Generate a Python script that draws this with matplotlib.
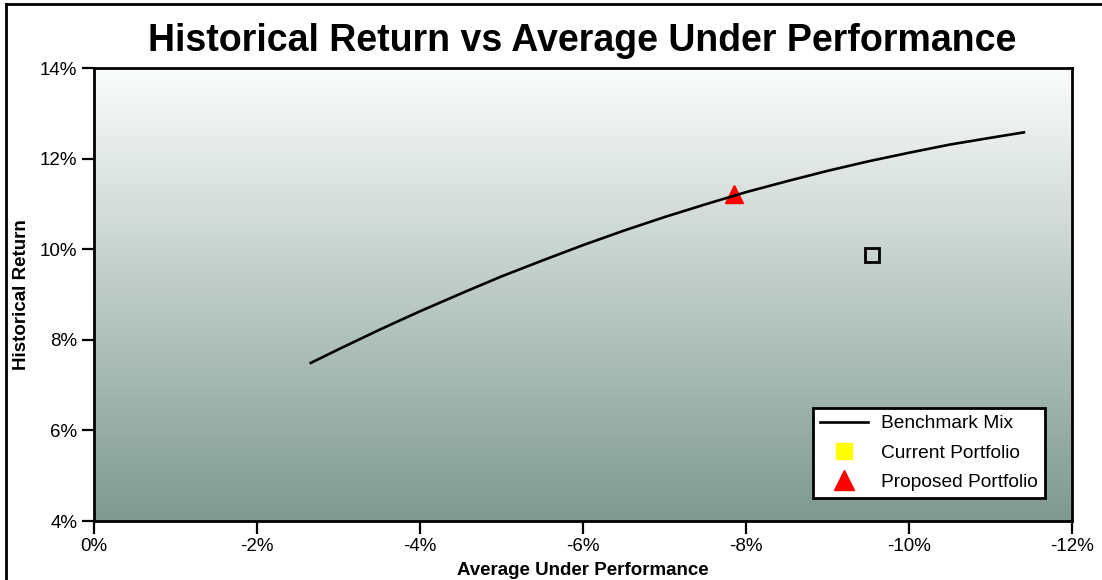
import numpy as np
import matplotlib.pyplot as plt
from matplotlib.lines import Line2D

plt.rcParams['font.family'] = ['Liberation Sans', 'DejaVu Sans']

# benchmark curve (average under performance %, historical return %)
bench_x = [-2.66, -3.0, -3.5, -4.0, -4.5, -5.0, -5.5, -6.0, -6.5, -7.0,
           -7.5, -8.0, -8.5, -9.0, -9.5, -10.0, -10.5, -11.0, -11.41]
bench_y = [7.49, 7.79, 8.22, 8.63, 9.02, 9.40, 9.75, 10.09, 10.41, 10.71,
           10.99, 11.26, 11.50, 11.73, 11.94, 12.13, 12.31, 12.46, 12.58]

current_x = [-9.55]
current_y = [9.87]
proposed_x = [-7.85]
proposed_y = [11.22]

xticks = [0, -2, -4, -6, -8, -10, -12]
yticks = [4, 6, 8, 10, 12, 14]

fig = plt.figure(figsize=(11.02, 5.8), dpi=100)
ax = fig.add_axes([0.0853, 0.1017, 0.8875, 0.7810])

# gradient background
top = np.array([251, 252, 252]) / 255
bot = np.array([126, 153, 145]) / 255
t = np.linspace(0, 1, 256)[:, None]
grad = (top * (1 - t) + bot * t)[:, None, :]
ax.imshow(grad, extent=[0, 1, 0, 1], transform=ax.transAxes, aspect='auto', zorder=0)

ax.plot(bench_x, bench_y, color='black', lw=1.9, zorder=3)
ax.plot(current_x, current_y, ls='none', marker='s', markersize=9.5,
        markerfacecolor='none', markeredgecolor='black', markeredgewidth=2, zorder=4)
ax.plot(proposed_x, proposed_y, ls='none', marker='^', markersize=13,
        color='red', zorder=2)

ax.set_xlim(0, -12)
ax.set_ylim(4, 14)
ax.set_xticks(xticks)
ax.set_xticklabels([f'{v}%' for v in xticks])
ax.set_yticks(yticks)
ax.set_yticklabels([f'{v}%' for v in yticks])
ax.tick_params(direction='out', length=9, width=1.6, labelsize=13.5, pad=3)
for s in ax.spines.values():
    s.set_linewidth(2)

ax.set_xlabel('Average Under Performance', fontsize=13.5, fontweight='bold', labelpad=5)
ax.set_ylabel('Historical Return', fontsize=13.5, fontweight='bold', labelpad=7)
fig.suptitle('Historical Return vs Average Under Performance', fontsize=27,
             fontweight='bold', x=582 / 1102, y=1 - 41 / 580, va='center')

handles = [
    Line2D([], [], color='black', lw=1.9),
    Line2D([], [], ls='none', marker='s', markersize=11, color='yellow'),
    Line2D([], [], ls='none', marker='^', markersize=14, color='red'),
]
labels = ['Benchmark Mix', 'Current Portfolio', 'Proposed Portfolio']
leg = ax.legend(handles, labels, loc='lower left', bbox_to_anchor=(0.735, 0.051),
                borderaxespad=0, fontsize=13.8, fancybox=False, framealpha=1,
                edgecolor='black', handlelength=2.5, handletextpad=0.7,
                labelspacing=0.62, borderpad=0.36)
leg.get_frame().set_linewidth(2)

# outer border (left and top only)
fig.add_artist(Line2D([6 / 1102, 6 / 1102], [0, 1 - 4 / 580], color='black', lw=2,
                      transform=fig.transFigure))
fig.add_artist(Line2D([6 / 1102, 1], [1 - 4 / 580, 1 - 4 / 580], color='black', lw=2,
                      transform=fig.transFigure))

fig.savefig('out.png', dpi=100)
